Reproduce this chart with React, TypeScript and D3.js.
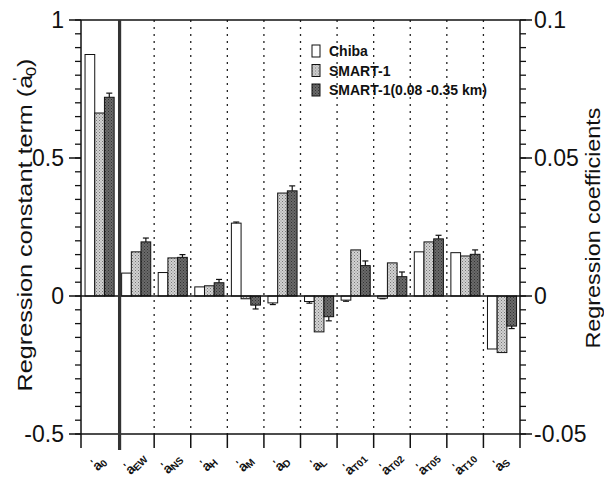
import React, { useEffect, useRef } from "react";
import * as d3 from "d3";

const categories = ["0", "EW", "NS", "H", "M", "D", "L", "T01", "T02", "T05", "T10", "S"];
const chiba = [0.875, 0.0083, 0.0085, 0.0033, 0.0264, -0.0025, -0.002, -0.0015, -0.0008, 0.016, 0.0157, -0.0192];
const chibaErr = [0.0, 0.0, 0.0, 0.0, 0.0004, 0.0006, 0.0006, 0.0004, 0.0002, 0.0, 0.0, 0.0];
const smart1 = [0.663, 0.016, 0.0138, 0.0037, -0.001, 0.0373, -0.013, 0.0167, 0.012, 0.0196, 0.0145, -0.0205];
const smart1Err = [0.0, 0.0, 0.0, 0.0, 0.0, 0.0, 0.0, 0.0, 0.0, 0.0, 0.0, 0.0];
const smart1b = [0.72, 0.0196, 0.014, 0.0048, -0.0033, 0.0381, -0.0075, 0.011, 0.007, 0.0207, 0.0151, -0.0109];
const smart1bErr = [0.015, 0.0014, 0.001, 0.0012, 0.0014, 0.0018, 0.0015, 0.0017, 0.0017, 0.0013, 0.0016, 0.0009];
const leftTicks = [1, 0.5, 0, -0.5];
const rightTicks = [0.1, 0.05, 0, -0.05];
const seriesNames = ["Chiba", "SMART-1", "SMART-1(0.08 -0.35 km)"];

const W = 604, H = 483;
const left = 81, right = 520, top = 20, bottom = 434;
const font = "'Liberation Sans', Arial, sans-serif";

export default function App() {
  const labelsRef = useRef<SVGGElement | null>(null);
  const yL = d3.scaleLinear().domain([-0.5, 1]).range([bottom, top]);
  const yR = d3.scaleLinear().domain([-0.05, 0.1]).range([bottom, top]);
  const x = d3.scaleBand<string>().domain(categories).range([left, right]).padding(0);
  const bw = x.bandwidth();
  const barW = 9.7;
  const off = (bw - 3 * barW) / 2 + 0.3;
  const fills = ["#ffffff", "url(#patLight)", "url(#patDark)"];
  const series = [chiba, smart1, smart1b];
  const errs = [chibaErr, smart1Err, smart1bErr];
  const leftMinor = d3.range(-0.5, 1.0001, 0.05);
  const rightMinor = d3.range(-0.05, 0.10001, 0.005);

  useEffect(() => {
    const g = d3.select(labelsRef.current);
    g.selectAll("*").remove();
    categories.forEach((c) => {
      const cx = x(c)! + bw / 2 + 3;
      const cy = bottom + 33;
      const t = g
        .append("text")
        .attr("transform", `translate(${cx},${cy}) rotate(-45)`)
        .attr("text-anchor", "middle")
        .attr("font-family", font)
        .attr("font-size", 14)
        .attr("font-weight", "bold")
        .attr("fill", "#111");
      t.append("tspan").text("a");
      t.append("tspan").attr("font-size", 10).attr("dy", -6).attr("dx", -6).text("'");
      t.append("tspan").attr("font-size", 10).attr("dy", 8).attr("dx", 3).text(c);
    });
  }, []);

  return (
    <svg width={W} height={H} style={{ position: "absolute", left: 0, top: 0, background: "#fff" }}>
      <defs>
        <pattern id="patLight" width="3" height="3" patternUnits="userSpaceOnUse">
          <rect width="3" height="3" fill="#d2d2d2" />
          <rect x="0" y="0" width="1" height="1" fill="#777" />
          <rect x="1.5" y="1.5" width="1" height="1" fill="#888" />
        </pattern>
        <pattern id="patDark" width="3" height="3" patternUnits="userSpaceOnUse">
          <rect width="3" height="3" fill="#6a6a6a" />
          <rect x="0" y="0" width="1" height="1" fill="#333" />
          <rect x="1.5" y="1.5" width="1" height="1" fill="#3a3a3a" />
        </pattern>
      </defs>
      <rect width={W} height={H} fill="#fff" />

      {/* dotted group separators */}
      {categories.slice(2).map((c) => {
        const xx = x(c)!;
        return (
          <line key={"d" + c} x1={xx} x2={xx} y1={top} y2={bottom} stroke="#222" strokeWidth={1.3} strokeDasharray="2,5" />
        );
      })}

      {/* bars */}
      {categories.map((c, i) => {
        const sc = i === 0 ? yL : yR;
        return series.map((s, k) => {
          const v = s[i];
          const x0 = x(c)! + off + k * barW;
          const y0 = sc(Math.max(0, v));
          const h = Math.abs(sc(v) - sc(0));
          const e = errs[k][i];
          const ye = sc(v + (v >= 0 ? e : -e));
          const cx = x0 + barW / 2;
          return (
            <g key={c + k}>
              <rect x={x0} y={y0} width={barW} height={Math.max(h, 1)} fill={fills[k]} stroke="#111" strokeWidth={1} />
              {e > 0 && (
                <g stroke="#111" strokeWidth={1.2}>
                  <line x1={cx} x2={cx} y1={sc(v)} y2={ye} />
                  <line x1={cx - 3} x2={cx + 3} y1={ye} y2={ye} />
                </g>
              )}
            </g>
          );
        });
      })}

      {/* zero line */}
      <line x1={left} x2={right} y1={yL(0)} y2={yL(0)} stroke="#111" strokeWidth={1.3} />

      {/* frame */}
      <line x1={left} x2={right} y1={top} y2={top} stroke="#111" strokeWidth={1.3} />
      <line x1={left} x2={right} y1={bottom} y2={bottom} stroke="#111" strokeWidth={1.5} />
      <line x1={left} x2={left} y1={top} y2={bottom} stroke="#111" strokeWidth={1.5} />
      <line x1={right} x2={right} y1={top} y2={bottom} stroke="#111" strokeWidth={1.5} />

      {/* thick separator */}
      <line x1={x(categories[1])! + 2} x2={x(categories[1])! + 2} y1={top} y2={bottom + 16} stroke="#333" strokeWidth={3.2} />

      {/* bottom ticks */}
      {[...categories.map((c) => x(c)!), right].map((xx, i) =>
        i === 1 ? null : <line key={"bt" + i} x1={xx} x2={xx} y1={bottom} y2={bottom + 14} stroke="#111" strokeWidth={1.5} />
      )}

      {/* left axis ticks */}
      {leftMinor.map((v, i) => (
        <line key={"lm" + i} x1={left - 6} x2={left} y1={yL(v)} y2={yL(v)} stroke="#111" strokeWidth={1.3} />
      ))}
      {leftTicks.map((v) => (
        <g key={"lt" + v}>
          <line x1={left - 12} x2={left} y1={yL(v)} y2={yL(v)} stroke="#111" strokeWidth={1.5} />
          <text x={left - 17} y={yL(v) + 8} textAnchor="end" fontFamily={font} fontSize={23} fill="#111">
            {v}
          </text>
        </g>
      ))}

      {/* right axis ticks */}
      {rightMinor.map((v, i) => (
        <line key={"rm" + i} x1={right} x2={right + 6} y1={yR(v)} y2={yR(v)} stroke="#111" strokeWidth={1.3} />
      ))}
      {rightTicks.map((v) => (
        <g key={"rt" + v}>
          <line x1={right} x2={right + 12} y1={yR(v)} y2={yR(v)} stroke="#111" strokeWidth={1.5} />
          <text x={right + 14} y={yR(v) + 8} textAnchor="start" fontFamily={font} fontSize={23} fill="#111">
            {v}
          </text>
        </g>
      ))}

      {/* axis titles */}
      <g transform="translate(32,225) rotate(-90)">
        <text x={0} y={0} textAnchor="middle" fontFamily={font} fontSize={21} fill="#111" textLength={333} lengthAdjust="spacingAndGlyphs">
          Regression constant term (a
          <tspan fontSize={14} dy={-9} dx={-5}>'</tspan>
          <tspan fontSize={14} dy={13} dx={1}>0</tspan>
          <tspan dy={-4}>)</tspan>
        </text>
      </g>
      <g transform="translate(600,228) rotate(-90)">
        <text x={0} y={0} textAnchor="middle" fontFamily={font} fontSize={21} fill="#111" textLength={241} lengthAdjust="spacingAndGlyphs">
          Regression coefficients
        </text>
      </g>

      {/* x category labels (rotated, drawn with d3) */}
      <g ref={labelsRef} />

      {/* legend */}
      {seriesNames.map((n, k) => (
        <g key={"lg" + n} transform={`translate(312,${45 + k * 19.5})`}>
          <rect x={0} y={0} width={8} height={12} fill={fills[k]} stroke="#111" strokeWidth={1} />
          <text x={17} y={11} fontFamily="'Liberation Sans Narrow', 'Liberation Sans', Arial, sans-serif" fontSize={14} fontWeight="bold" fill="#111">
            {n}
          </text>
        </g>
      ))}
    </svg>
  );
}
